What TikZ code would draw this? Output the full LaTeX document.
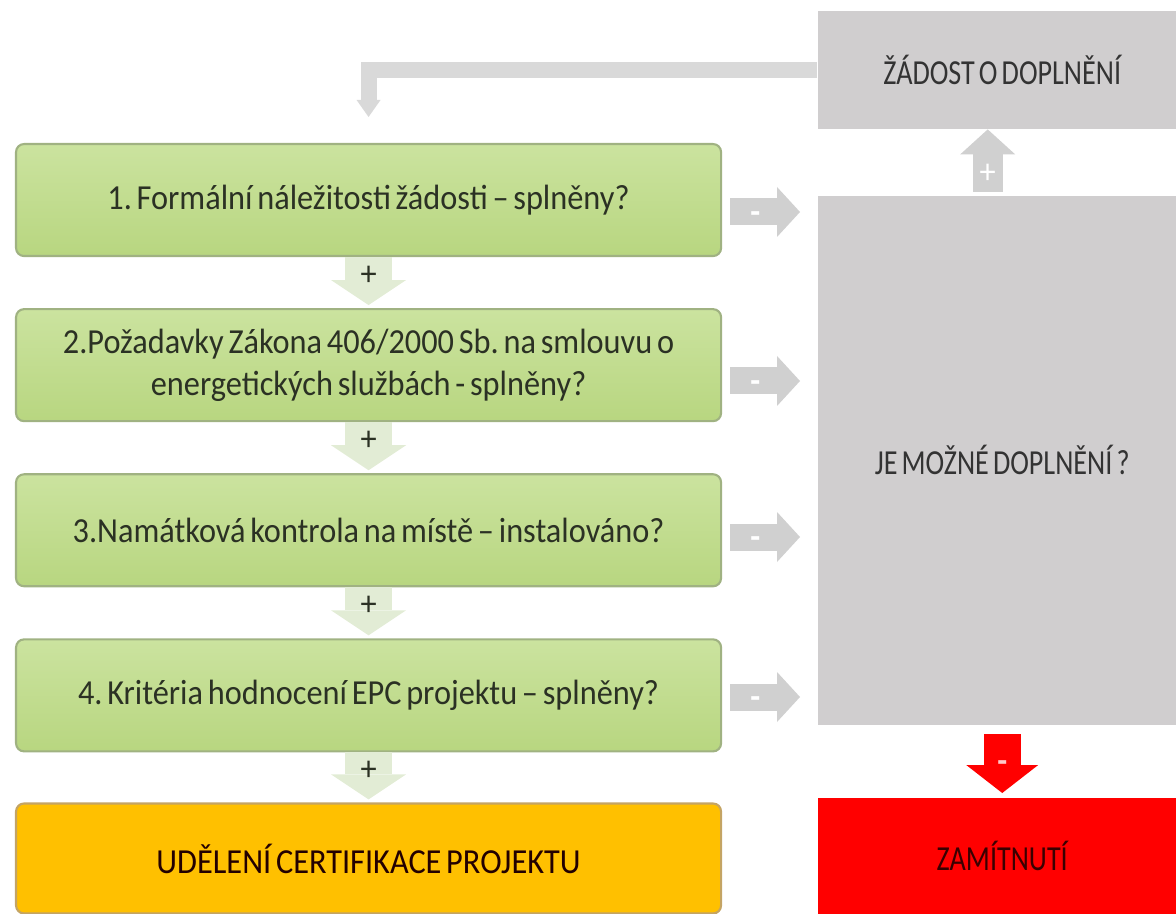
\documentclass[tikz,border=0pt]{standalone}
\usepackage{fontspec}
\setmainfont{Carlito}[FakeStretch=0.92, WordSpace=0.65]
\newfontfamily\sidefont{Carlito}[FakeStretch=0.8, WordSpace=0.65]
\usetikzlibrary{positioning, arrows.meta}

\definecolor{greentop}{HTML}{CBE39F}
\definecolor{greenbot}{HTML}{B8D680}
\definecolor{greenline}{HTML}{A0B282}
\definecolor{greentext}{HTML}{2B3124}
\definecolor{plusgreen}{HTML}{E2ECD5}
\definecolor{boxgray}{HTML}{D0CECF}
\definecolor{sidetext}{HTML}{333333}
\definecolor{arrowgray}{HTML}{D0D0D0}
\definecolor{backgray}{HTML}{D9D9D9}
\definecolor{certorange}{HTML}{FFC000}
\definecolor{orangeline}{HTML}{C4A464}
\definecolor{rejectred}{HTML}{FF0000}
\definecolor{rejecttext}{HTML}{3A0000}
\definecolor{minuspink}{HTML}{FFC8C8}

\begin{document}
\frenchspacing
\begin{tikzpicture}[
  font=\fontsize{10pt}{12pt}\selectfont,
  node distance=0.51cm,
  kbox/.style={rectangle, rounded corners=0.08cm, draw=greenline, line width=0.6pt,
    top color=greentop, bottom color=greenbot, text=greentext,
    minimum width=7.05cm, minimum height=1.12cm, align=center, inner sep=0pt},
  certbox/.style={rectangle, rounded corners=0.08cm, draw=orangeline, line width=0.6pt,
    fill=certorange, text=rejecttext!60!black, minimum width=7.05cm, minimum height=1.10cm, inner sep=0pt},
  sidebox/.style={rectangle, fill=boxgray, text=sidetext, font=\fontsize{10pt}{12pt}\sidefont,
    minimum width=3.69cm, inner sep=0pt, anchor=north west},
  sign/.style={font=\fontsize{10pt}{12pt}\selectfont\bfseries, yshift=-0.06cm},
  plusarrow/.style={draw=plusgreen, line width=0.47cm,
    -{Triangle[width=0.75cm, length=0.25cm, line width=0pt]}, shorten >=0.03cm},
  minusarrow/.style={draw=arrowgray, line width=0.27cm,
    -{Triangle[width=0.50cm, length=0.23cm, line width=0pt]}, shorten <=0.08cm, shorten >=0.17cm},
  uparrow/.style={draw=arrowgray, line width=0.30cm,
    -{Triangle[width=0.55cm, length=0.25cm, line width=0pt]}, shorten <=0.03cm},
  redarrow/.style={draw=rejectred, line width=0.37cm,
    -{Triangle[width=0.72cm, length=0.28cm, line width=0pt]}, shorten <=0.09cm, shorten >=0.04cm},
  backarrow/.style={draw=backgray, line width=0.16cm, line join=miter,
    -{Triangle[width=0.24cm, length=0.17cm, line width=0pt]}, shorten >=0.26cm}
]
  % Page size
  \useasboundingbox (0,0) rectangle (11.76,-9.13);

  % Left column: the four checks and the result
  \node[kbox, anchor=north west] (k1) at (0.15,-1.43) {1. Formální náležitosti žádosti – splněny?};
  \node[kbox, below=of k1] (k2) {2.Požadavky Zákona 406/2000 Sb. na smlouvu o\\energetických službách - splněny?};
  \node[kbox, below=of k2] (k3) {3.Namátková kontrola na místě – instalováno?};
  \node[kbox, below=of k3] (k4) {4. Kritéria hodnocení EPC projektu – splněny?};
  \node[certbox, below=0.50cm of k4] (udeleni) {UDĚLENÍ CERTIFIKACE PROJEKTU};

  % Right column
  \node[sidebox, minimum height=1.18cm] (zadost) at (8.17,-0.10) {ŽÁDOST O DOPLNĚNÍ};
  \node[sidebox, minimum height=5.29cm] (doplneni) at (8.17,-1.95) {JE MOŽNÉ DOPLNĚNÍ ?};
  \node[sidebox, minimum height=1.16cm, fill=rejectred, text=rejecttext] (zamitnuti) at (8.17,-7.97) {ZAMÍTNUTÍ};

  % "+" arrows down the left column
  \foreach \a/\b in {k1/k2, k2/k3, k3/k4, k4/udeleni}
    \draw[plusarrow] (\a.south) -- (\b.north) node[pos=0.36, text=greentext] {+};

  % "-" arrows to the right
  \foreach \k/\y in {k1/2.12, k2/3.81, k3/5.37, k4/6.97}
    \draw[minusarrow] (\k.east |- 0,-\y) -- (doplneni.west |- 0,-\y) node[sign, pos=0.35, text=white] {-};

  % yes / no from the grey box
  \draw[uparrow] ([xshift=-0.145cm]doplneni.north) -- ([xshift=-0.145cm]zadost.south)
    node[pos=0.32, text=white] {+};
  \draw[redarrow] (doplneni.south) -- (zamitnuti.north) node[sign, pos=0.49, text=minuspink] {-};

  % back to the first check
  \draw[backarrow] (zadost.west) -| (k1.north);

\end{tikzpicture}
\end{document}
